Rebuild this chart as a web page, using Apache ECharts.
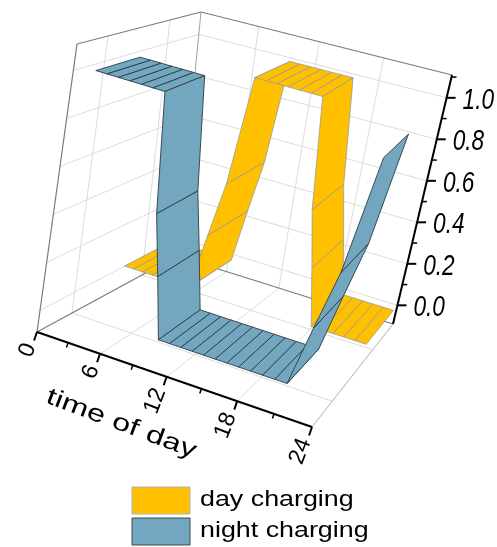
<!DOCTYPE html>
<html>
<head>
<meta charset="utf-8">
<script src="https://cdn.jsdelivr.net/npm/echarts@6/dist/echarts.min.js"></script>
<style>
  html, body { margin: 0; padding: 0; background: #ffffff; }
  #chart { width: 497px; height: 547px; }
</style>
</head>
<body>
<div id="chart"></div>
<script>
// Hour of day
const hours = [0, 1, 2, 3, 4, 5, 6, 7, 8, 9, 10, 11, 12, 13, 14, 15, 16, 17, 18, 19, 20, 21, 22, 23, 24];
// Normalised charging power per hour
const dayCharging   = [0, 0, 0, 0, 0, 0, 0, 0, 0.25, 0.5, 1, 1, 1, 1, 1, 1, 1, 0.5, 0.25, 0, 0, 0, 0, 0, 0];
const nightCharging = [null, 1, 1, 1, 1, 1, 1, 1, 0.5, 0.25, 0, 0, 0, 0, 0, 0, 0, 0, 0, 0, 0, 0, 0.25, 0.5, 1];
const seriesNames = ['day charging', 'night charging'];

// Axis ticks
const timeMajor = [0, 6, 12, 18, 24];
const timeMinor = [3, 9, 15, 21];
const zMajor = [0, 0.2, 0.4, 0.6, 0.8, 1.0];
const zMinor = [0.1, 0.3, 0.5, 0.7, 0.9, 1.1];
const depthGrid = [0.25, 0.75];

// Axis ranges
const T_MIN = 0, T_MAX = 24;
const Z_MIN = -0.09, Z_MAX = 1.11;

// Projected corners of the plot box: [front|back][left|right][bottom|top]
const BOX = {
  FL0: [37, 332], FR0: [312, 427], BL0: [177, 256], BR0: [393, 324],
  FL1: [77, 44],  FR1: [384, 137], BL1: [201, 12],  BR1: [452, 75]
};
const K_T = 0.892; // foreshortening along the time axis

const lerp = (a, b, f) => [a[0] + (b[0] - a[0]) * f, a[1] + (b[1] - a[1]) * f];

// Maps (time, depth 0..1, value) into screen space
function proj(t, s, z) {
  let u = (t - T_MIN) / (T_MAX - T_MIN);
  u = K_T * u / (1 - (1 - K_T) * u);
  const w = (z - Z_MIN) / (Z_MAX - Z_MIN);
  const fl = lerp(BOX.FL0, BOX.FL1, w), fr = lerp(BOX.FR0, BOX.FR1, w);
  const bl = lerp(BOX.BL0, BOX.BL1, w), br = lerp(BOX.BR0, BOX.BR1, w);
  return lerp(lerp(fl, fr, u), lerp(bl, br, u), s);
}

function seg(a, b, stroke, width) {
  return { type: 'line', silent: true,
    shape: { x1: a[0], y1: a[1], x2: b[0], y2: b[1] },
    style: { stroke: stroke, lineWidth: width } };
}

// ---- box, grid and axes ----
const frame = [];
const GRID = '#dcdcdc', EDGE = '#7a7a7a';
zMajor.forEach(z => {
  frame.push(seg(proj(T_MIN, 1, z), proj(T_MAX, 1, z), GRID, 1));
  frame.push(seg(proj(T_MIN, 0, z), proj(T_MIN, 1, z), GRID, 1));
});
[6, 12, 18].forEach(t => {
  frame.push(seg(proj(t, 1, Z_MIN), proj(t, 1, Z_MAX), GRID, 1));
  frame.push(seg(proj(t, 0, Z_MIN), proj(t, 1, Z_MIN), GRID, 1));
});
depthGrid.forEach(s => {
  frame.push(seg(proj(T_MIN, s, Z_MIN), proj(T_MIN, s, Z_MAX), GRID, 1));
  frame.push(seg(proj(T_MIN, s, Z_MIN), proj(T_MAX, s, Z_MIN), GRID, 1));
});
frame.push(seg(proj(T_MIN, 0, Z_MIN), proj(T_MIN, 0, Z_MAX), EDGE, 1.2));
frame.push(seg(proj(T_MIN, 0, Z_MAX), proj(T_MIN, 1, Z_MAX), EDGE, 1.2));
frame.push(seg(proj(T_MIN, 1, Z_MIN), proj(T_MIN, 1, Z_MAX), '#a0a0a0', 1));
frame.push(seg(proj(T_MIN, 1, Z_MAX), proj(T_MAX, 1, Z_MAX), EDGE, 1.2));
frame.push(seg(proj(T_MIN, 0, Z_MIN), proj(T_MIN, 1, Z_MIN), EDGE, 1.2));
frame.push(seg(proj(T_MIN, 1, Z_MIN), proj(T_MAX, 1, Z_MIN), EDGE, 1.2));
frame.push(seg(proj(T_MAX, 0, Z_MIN), proj(T_MAX, 1, Z_MIN), '#b0b0b0', 1));

// time axis along the front floor edge, ticks normal to it
const a0 = proj(T_MIN, 0, Z_MIN), a1 = proj(T_MAX, 0, Z_MIN);
const aLen = Math.hypot(a1[0] - a0[0], a1[1] - a0[1]);
const nrm = [-(a1[1] - a0[1]) / aLen, (a1[0] - a0[0]) / aLen];
frame.push(seg(a0, a1, '#000', 2));
timeMajor.forEach(t => {
  const p = proj(t, 0, Z_MIN);
  frame.push(seg(p, [p[0] + nrm[0] * 9, p[1] + nrm[1] * 9], '#000', 2));
});
timeMinor.forEach(t => {
  const p = proj(t, 0, Z_MIN);
  frame.push(seg(p, [p[0] + nrm[0] * 5, p[1] + nrm[1] * 5], '#000', 1.5));
});
timeMajor.forEach(t => {
  const p = proj(t, 0, Z_MIN);
  frame.push({ type: 'text', silent: true, x: p[0] + nrm[0] * 12 - 3, y: p[1] + nrm[1] * 12 + 1, rotation: 1.2,
    style: { text: String(t), font: '23px "Liberation Sans", Arial, sans-serif',
      fill: '#000', align: 'right', verticalAlign: 'middle' } });
});
const tt = proj(13.2, -0.56, Z_MIN);
frame.push({ type: 'text', silent: true, x: tt[0] + 2, y: tt[1] - 8, rotation: -0.36, scaleX: 1.35,
  style: { text: 'time of day', font: '24px "Liberation Sans", Arial, sans-serif',
    fill: '#000', align: 'center', verticalAlign: 'middle' } });

// value axis on the back right edge
frame.push(seg(proj(T_MAX, 1, Z_MIN), proj(T_MAX, 1, Z_MAX), '#000', 2));
zMajor.forEach(z => {
  const p = proj(T_MAX, 1, z);
  frame.push(seg(p, [p[0] + 9, p[1]], '#000', 2));
  frame.push({ type: 'text', silent: true, x: p[0] + 16, y: p[1] + 3, scaleX: 0.78,
    style: { text: z.toFixed(1), font: 'italic 29px "Liberation Sans", Arial, sans-serif',
      fill: '#000', align: 'left', verticalAlign: 'middle' } });
});
zMinor.forEach(z => {
  const p = proj(T_MAX, 1, z);
  frame.push(seg(p, [p[0] + 5, p[1]], '#000', 1.5));
});

// ---- legend ----
const legendColors = [['#FFC000', '#b3b3b3'], ['#72A7BF', '#3a4a55']];
seriesNames.forEach((name, i) => {
  const y = 487 + i * 31;
  frame.push({ type: 'rect', silent: true, shape: { x: 132, y: y, width: 58, height: 27 },
    style: { fill: legendColors[i][0], stroke: legendColors[i][1], lineWidth: 1 } });
  frame.push({ type: 'text', silent: true, x: 200, y: y + 13, scaleX: 1.22,
    style: { text: name, font: '22px "Liberation Sans", Arial, sans-serif',
      fill: '#000', align: 'left', verticalAlign: 'middle' } });
});

// ---- ribbons ----
function ribbon(name, values, s0, s1, fill, stroke, lw, z) {
  const segs = [];
  for (let i = 0; i + 1 < hours.length; i++) {
    if (values[i] == null || values[i + 1] == null) continue;
    segs.push([hours[i], values[i], hours[i + 1], values[i + 1]]);
  }
  return {
    type: 'custom', name: name, coordinateSystem: 'none', z: z,
    data: segs, itemStyle: { color: fill }, animation: false,
    renderItem: function (params, api) {
      const t0 = api.value(0), z0 = api.value(1), t1 = api.value(2), z1 = api.value(3);
      const pts = [proj(t0, s0, z0), proj(t1, s0, z1), proj(t1, s1, z1), proj(t0, s1, z0)];
      return { type: 'polygon', shape: { points: pts },
        style: { fill: fill, stroke: stroke, lineWidth: lw, lineJoin: 'round' } };
    }
  };
}

const chart = echarts.init(document.getElementById('chart'), null, { renderer: 'canvas' });
chart.setOption({
  backgroundColor: '#ffffff',
  animation: false,
  graphic: { elements: frame },
  series: [
    ribbon(seriesNames[0], dayCharging, 0.61, 0.95, '#FFC000', '#9a9a9a', 0.8, 3),
    ribbon(seriesNames[1], nightCharging, 0.09, 0.45, '#72A7BF', '#2d3b45', 0.9, 4)
  ]
});
</script>
</body>
</html>
